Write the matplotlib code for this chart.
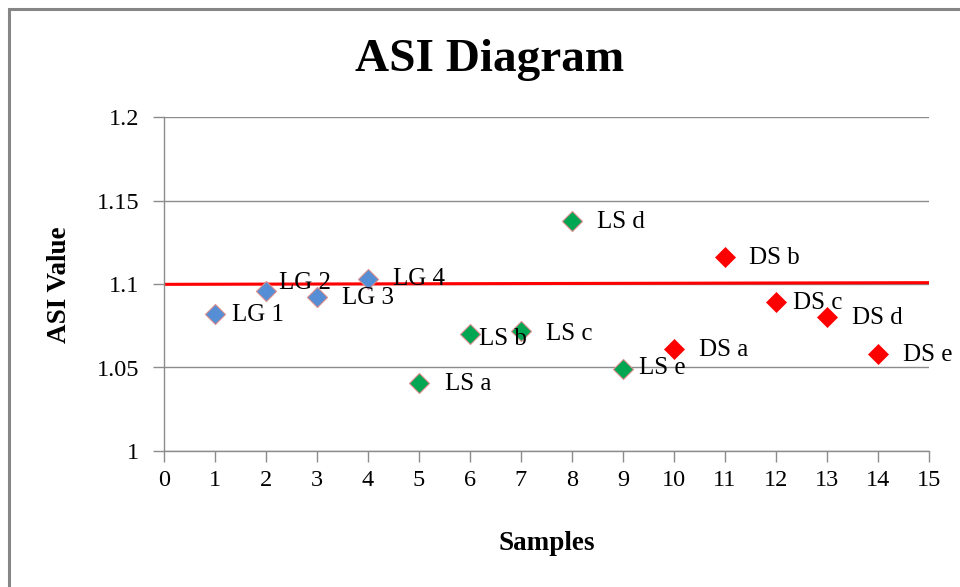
import matplotlib
matplotlib.use("Agg")
import matplotlib.pyplot as plt
from matplotlib.patches import Rectangle

# ---- data ----
lg_x = [1, 2, 3, 4]
lg_y = [1.082, 1.096, 1.092, 1.103]
lg_labels = ["LG 1", "LG 2", "LG 3", "LG 4"]

ls_x = [5, 6, 7, 8, 9]
ls_y = [1.041, 1.070, 1.072, 1.138, 1.049]
ls_labels = ["LS a", "LS b", "LS c", "LS d", "LS e"]

ds_x = [10, 11, 12, 13, 14]
ds_y = [1.061, 1.116, 1.089, 1.080, 1.058]
ds_labels = ["DS a", "DS b", "DS c", "DS d", "DS e"]

line_x = [0, 15]
line_y = [1.0998, 1.1008]

x_ticks = list(range(0, 16))
y_ticks = [1.0, 1.05, 1.1, 1.15, 1.2]
y_ticklabels = ["1", "1.05", "1.1", "1.15", "1.2"]

# ---- style ----
plt.rcParams['font.family'] = ['Liberation Serif', 'DejaVu Serif']

fig = plt.figure(figsize=(9.6, 5.87), dpi=100)
ax = fig.add_axes([164/960, 1-451/587, (929-164)/960, (451-117)/587])

# outer chart border
fig.patches.append(Rectangle((9/960, -0.1), 1.2, (587-9)/587 + 0.1,
                             transform=fig.transFigure, fill=False,
                             edgecolor='#868686', linewidth=2.2, zorder=0))

ax.set_xlim(0, 15)
ax.set_ylim(1.0, 1.2)
ax.set_yticks(y_ticks)
ax.set_yticklabels(y_ticklabels)
ax.set_xticks(x_ticks)
ax.grid(axis='y', color='#8c8c8c', linewidth=1.0)
ax.set_axisbelow(True)
for s in ['top', 'right']:
    ax.spines[s].set_visible(False)
for s in ['left', 'bottom']:
    ax.spines[s].set_color('#8c8c8c')
    ax.spines[s].set_linewidth(1.0)
ax.tick_params(axis='both', direction='out', length=8, color='#8c8c8c',
               labelsize=17.5, width=1.0)
ax.tick_params(axis='x', pad=6)
ax.tick_params(axis='y', pad=10)

ax.plot(line_x, line_y, color='#ff0000', linewidth=2.2, zorder=2, solid_capstyle='butt')

ms = 10
ax.plot(lg_x, lg_y, linestyle='none', marker='D', markersize=ms,
        markerfacecolor='#558ed5', markeredgecolor='#d98c8c', markeredgewidth=0.8, zorder=3)
ax.plot(ls_x, ls_y, linestyle='none', marker='D', markersize=ms,
        markerfacecolor='#00a651', markeredgecolor='#d98c8c', markeredgewidth=0.8, zorder=3)
ax.plot(ds_x, ds_y, linestyle='none', marker='D', markersize=ms,
        markerfacecolor='#ff0000', markeredgecolor='#ff0000', markeredgewidth=0.5, zorder=3)

# label offsets in pixels (dx, dy)
offsets = {
    "LG 1": (17, -1), "LG 2": (13, 8), "LG 3": (25, -1), "LG 4": (25, 0),
    "LS a": (26, -1), "LS b": (9, -5), "LS c": (25, -3), "LS d": (25, -1),
    "LS e": (16, 1), "DS a": (25, -1), "DS b": (24, -1), "DS c": (17, -1),
    "DS d": (25, -1), "DS e": (25, -1),
}
for xs, ys, labs in [(lg_x, lg_y, lg_labels), (ls_x, ls_y, ls_labels), (ds_x, ds_y, ds_labels)]:
    for x, y, t in zip(xs, ys, labs):
        dx, dy = offsets[t]
        ax.annotate(t, (x, y), xytext=(dx * 0.72, dy * 0.72), textcoords='offset points',
                    ha='left', va='center', fontsize=18, zorder=4)

fig.text(490/960, 1-60/587, "ASI Diagram", ha='center', va='center',
         fontsize=34, fontweight='bold')
fig.text(60/960, 1-285/587, "ASI Value", ha='center', va='center',
         fontsize=19.5, fontweight='bold', rotation=90)
fig.text(547/960, 1-543/587, "Samples", ha='center', va='center',
         fontsize=19.5, fontweight='bold')

fig.savefig("out.png", dpi=100)
